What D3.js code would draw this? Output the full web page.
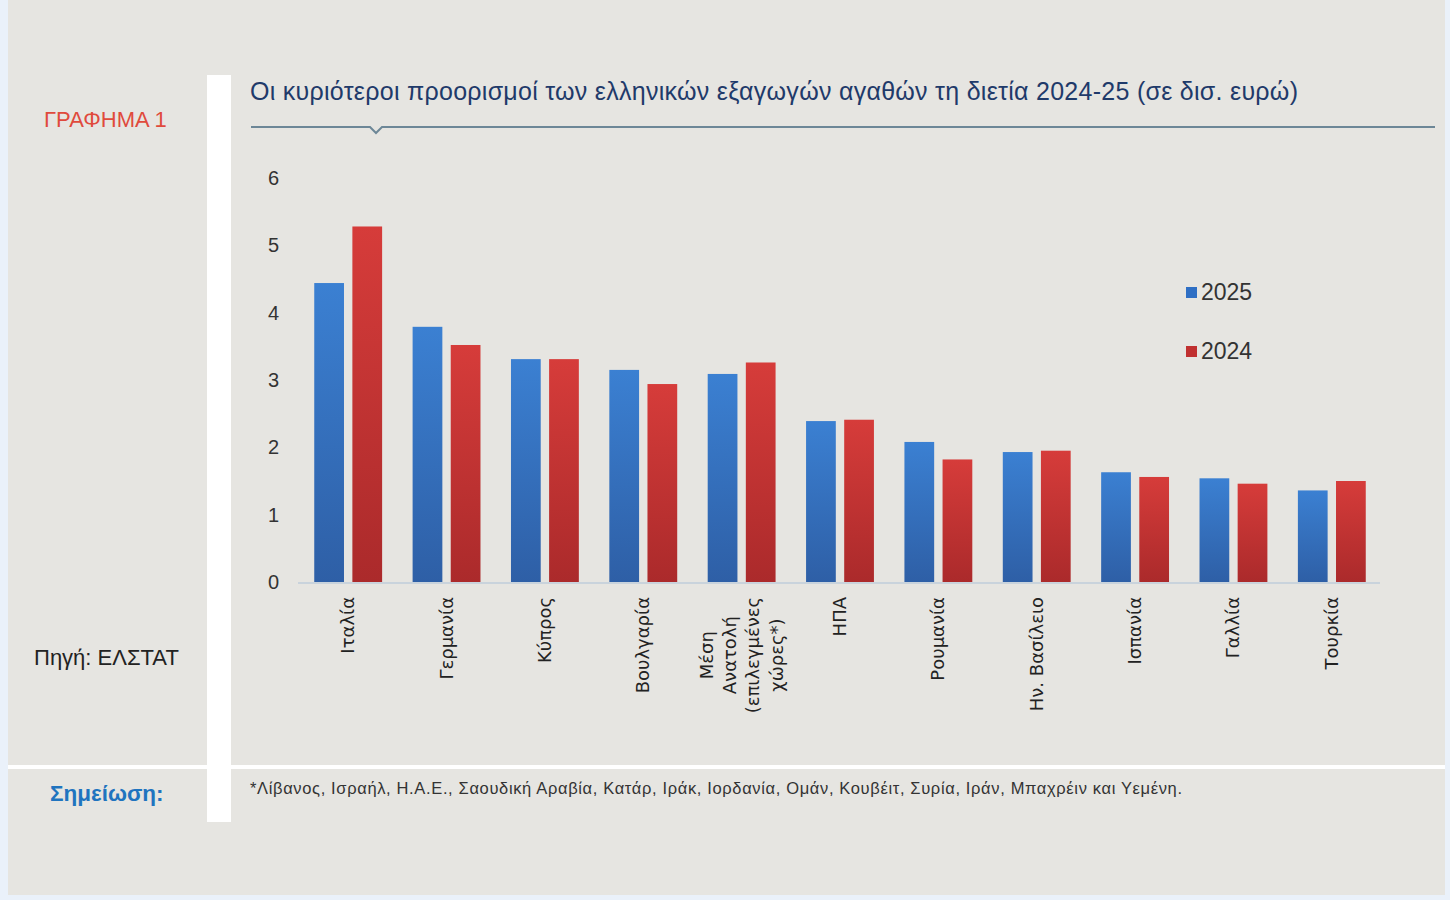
<!DOCTYPE html>
<html>
<head>
<meta charset="utf-8">
<title>Οι κυριότεροι προορισμοί των ελληνικών εξαγωγών</title>
<style>
body { margin: 0; background: #eaf1fa; }
svg { display: block; font-family: "Liberation Sans", Arial, sans-serif; }
.tick text { font-size: 20px; fill: #333; font-family: "Liberation Sans", Arial, sans-serif; }
</style>
</head>
<body>
<div id="chart"></div>
<script src="https://cdn.jsdelivr.net/npm/d3@7"></script>
<script>
// data (δισ. ευρώ)
var countries = ["Ιταλία", "Γερμανία", "Κύπρος", "Βουλγαρία", "Μέση Ανατολή (επιλεγμένες χώρες*)",
  "ΗΠΑ", "Ρουμανία", "Ην. Βασίλειο", "Ισπανία", "Γαλλία", "Τουρκία"];
var labelLines = [["Ιταλία"], ["Γερμανία"], ["Κύπρος"], ["Βουλγαρία"], ["Μέση", "Ανατολή", "(επιλεγμένες", "χώρες*)"],
  ["ΗΠΑ"], ["Ρουμανία"], ["Ην. Βασίλειο"], ["Ισπανία"], ["Γαλλία"], ["Τουρκία"]];
var years = ["2025", "2024"];
var values2025 = [4.44, 3.79, 3.31, 3.15, 3.09, 2.39, 2.08, 1.93, 1.63, 1.54, 1.36];
var values2024 = [5.28, 3.52, 3.31, 2.94, 3.26, 2.41, 1.82, 1.95, 1.56, 1.46, 1.50];
var yTicks = [0, 1, 2, 3, 4, 5, 6];

var W = 1450, H = 900;
var svg = d3.select("#chart").append("svg").attr("width", W).attr("height", H);

// background panels
svg.append("rect").attr("x", 8).attr("y", 0).attr("width", 1437).attr("height", 895).attr("fill", "#e6e5e1");
svg.append("rect").attr("x", 207).attr("y", 75).attr("width", 24).attr("height", 747).attr("fill", "#fff");
svg.append("rect").attr("x", 8).attr("y", 765).attr("width", 1437).attr("height", 4).attr("fill", "#fff");

// gradients
var defs = svg.append("defs");
var grads = [{id: "gBlue", top: "#3b80d2", bot: "#2e5fa6"}, {id: "gRed", top: "#d63c3a", bot: "#ab2a2b"}];
grads.forEach(function(g) {
  var lg = defs.append("linearGradient").attr("id", g.id).attr("x1", 0).attr("y1", 0).attr("x2", 0).attr("y2", 1);
  lg.append("stop").attr("offset", "0%").attr("stop-color", g.top);
  lg.append("stop").attr("offset", "100%").attr("stop-color", g.bot);
});
var colors = {"2025": "url(#gBlue)", "2024": "url(#gRed)"};
var legendColors = {"2025": "#2f6fc4", "2024": "#c03030"};

// left side texts
svg.append("text").attr("x", 44).attr("y", 127).attr("font-size", 22).attr("fill", "#e04a3c").text("ΓΡΑΦΗΜΑ 1");
svg.append("text").attr("x", 34).attr("y", 665).attr("font-size", 22).attr("fill", "#222").text("Πηγή: ΕΛΣΤΑΤ");
svg.append("text").attr("x", 50).attr("y", 801).attr("font-size", 22.5).attr("font-weight", "bold")
  .attr("fill", "#1f74bf").text("Σημείωση:");
svg.append("text").attr("x", 250).attr("y", 794).attr("font-size", 16.5).attr("fill", "#333")
  .attr("textLength", 932).attr("lengthAdjust", "spacing")
  .text("*Λίβανος, Ισραήλ, Η.Α.Ε., Σαουδική Αραβία, Κατάρ, Ιράκ, Ιορδανία, Ομάν, Κουβέιτ, Συρία, Ιράν, Μπαχρέιν και Υεμένη.");

// title + underline with notch
svg.append("text").attr("x", 250).attr("y", 100).attr("font-size", 25).attr("fill", "#1f3a6a")
  .attr("textLength", 1048).attr("lengthAdjust", "spacing")
  .text("Οι κυριότεροι προορισμοί των ελληνικών εξαγωγών αγαθών τη διετία 2024-25 (σε δισ. ευρώ)");
svg.append("path").attr("d", "M251,127 L370,127 L376,133 L382,127 L1435,127")
  .attr("fill", "none").attr("stroke", "#6d8797").attr("stroke-width", 2);

// scales
var x0 = d3.scaleBand().domain(countries).range([299, 1381]).paddingInner(0.31).paddingOuter(0.155);
var x1 = d3.scaleBand().domain(years).range([0, x0.bandwidth()]).paddingInner(0.22);
var y = d3.scaleLinear().domain([0, 6]).range([582, 178]);

// y axis (labels only)
var yAxis = svg.append("g").attr("transform", "translate(285,0)")
  .call(d3.axisLeft(y).tickValues(yTicks).tickFormat(d3.format("d")).tickSize(0).tickPadding(6));
yAxis.select(".domain").remove();

// bars
var rows = countries.map(function(c, i) { return {c: c, v: {"2025": values2025[i], "2024": values2024[i]}}; });
var groups = svg.selectAll(".grp").data(rows).enter().append("g")
  .attr("transform", function(d) { return "translate(" + x0(d.c) + ",0)"; });
groups.selectAll("rect").data(function(d) { return years.map(function(k) { return {k: k, v: d.v[k]}; }); })
  .enter().append("rect")
  .attr("x", function(d) { return x1(d.k); })
  .attr("y", function(d) { return y(d.v); })
  .attr("width", x1.bandwidth())
  .attr("height", function(d) { return y(0) - y(d.v); })
  .attr("fill", function(d) { return colors[d.k]; });

// x axis baseline
svg.append("line").attr("x1", 298).attr("x2", 1380).attr("y1", y(0) + 1).attr("y2", y(0) + 1)
  .attr("stroke", "#c9d3dc").attr("stroke-width", 2);

// rotated category labels
countries.forEach(function(c, i) {
  var lines = labelLines[i];
  var cx = x0(c) + x0.bandwidth() / 2;
  var lh = 23.3;
  var g = svg.append("g").attr("transform", "translate(" + cx + ",597) rotate(-90)");
  var t = g.append("text").attr("font-size", 18).attr("fill", "#222")
    .attr("font-family", "'DejaVu Sans', sans-serif")
    .attr("text-anchor", lines.length > 1 ? "middle" : "end");
  lines.forEach(function(l, j) {
    t.append("tspan").attr("x", 0).attr("y", (j - (lines.length - 1) / 2) * lh + 6).text(l);
  });
  if (lines.length > 1) {
    var w = d3.max(t.selectAll("tspan").nodes(), function(n) { return n.getComputedTextLength(); });
    t.selectAll("tspan").attr("x", -w / 2);
  }
});

// legend
var legY = {"2025": 292, "2024": 351};
years.forEach(function(k) {
  svg.append("rect").attr("x", 1186).attr("y", legY[k] - 5).attr("width", 11).attr("height", 11).attr("fill", legendColors[k]);
  svg.append("text").attr("x", 1201).attr("y", legY[k] + 8).attr("font-size", 23).attr("fill", "#333").text(k);
});
</script>
</body>
</html>
